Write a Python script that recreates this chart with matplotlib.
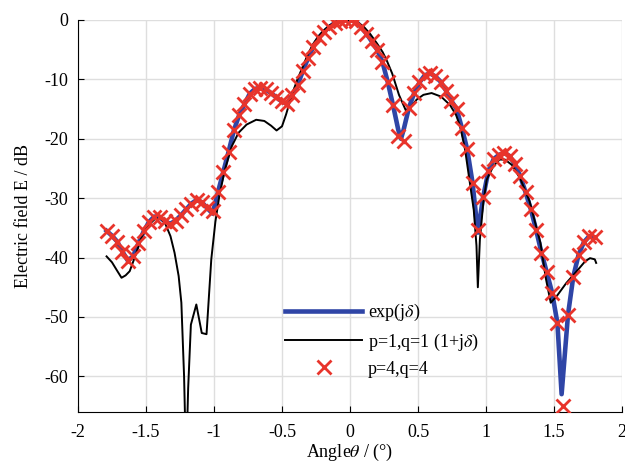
import matplotlib
matplotlib.use("Agg")
import matplotlib.pyplot as plt

plt.rcParams['font.family'] = ['Liberation Serif', 'DejaVu Serif']
plt.rcParams['mathtext.fontset'] = 'stix'
plt.rcParams['axes.unicode_minus'] = False

# angles of the p=4,q=4 samples (deg)
angle_pq4 = [-1.790, -1.751, -1.712, -1.673, -1.634, -1.595, -1.556, -1.517, -1.478, -1.439,
             -1.400, -1.361, -1.322, -1.283, -1.244, -1.205, -1.166, -1.127, -1.088, -1.049,
             -1.010, -0.971, -0.932, -0.893, -0.854, -0.815, -0.776, -0.737, -0.698, -0.659,
             -0.620, -0.581, -0.542, -0.503, -0.464, -0.425, -0.386, -0.347, -0.308, -0.269,
             -0.230, -0.191, -0.152, -0.113, -0.074, -0.035, 0.004, 0.043, 0.082, 0.121,
             0.160, 0.199, 0.238, 0.277, 0.316, 0.355, 0.394, 0.433, 0.472, 0.511,
             0.550, 0.589, 0.628, 0.667, 0.706, 0.745, 0.784, 0.823, 0.862, 0.901,
             0.940, 0.979, 1.018, 1.057, 1.096, 1.135, 1.174, 1.213, 1.252, 1.291,
             1.330, 1.369, 1.408, 1.447, 1.486, 1.525, 1.564, 1.603, 1.642, 1.681,
             1.720, 1.759, 1.798]
db_pq4 = [-35.5, -36.3, -37.3, -39.0, -40.5, -39.8, -37.6, -35.6, -34.0, -33.1,
          -33.2, -33.9, -34.3, -33.8, -32.9, -31.9, -30.9, -30.3, -30.7, -31.7,
          -32.2, -29.0, -25.6, -22.2, -18.6, -16.0, -14.2, -12.4, -11.6, -11.4,
          -11.7, -12.3, -13.0, -13.7, -14.1, -12.7, -11.0, -8.6, -6.4, -4.5,
          -3.0, -2.0, -1.2, -0.5, -0.1, 0.0, 0.0, -0.2, -1.2, -2.3,
          -3.6, -5.0, -7.0, -10.4, -14.3, -19.5, -20.3, -14.8, -12.3, -10.5,
          -9.3, -9.0, -9.5, -10.4, -11.9, -13.6, -15.0, -18.2, -21.8, -27.4,
          -35.3, -29.8, -25.4, -23.4, -22.7, -22.4, -22.9, -24.3, -26.3, -29.0,
          -31.9, -35.4, -39.2, -42.5, -45.9, -51.0, -65.0, -49.6, -43.2, -39.5,
          -37.4, -36.4, -36.6]

# exp(j delta) curve
angle_exp = [-1.790, -1.751, -1.712, -1.673, -1.634, -1.595, -1.556, -1.517, -1.478, -1.439,
             -1.400, -1.361, -1.322, -1.283, -1.244, -1.205, -1.166, -1.127, -1.088, -1.049,
             -1.010, -0.971, -0.932, -0.893, -0.854, -0.815, -0.776, -0.737, -0.698, -0.659,
             -0.620, -0.581, -0.542, -0.503, -0.464, -0.425, -0.386, -0.347, -0.308, -0.269,
             -0.230, -0.191, -0.152, -0.113, -0.074, -0.035, 0.004, 0.043, 0.082, 0.121,
             0.160, 0.199, 0.238, 0.277, 0.316, 0.355, 0.375, 0.394, 0.433, 0.472, 0.511,
             0.550, 0.589, 0.628, 0.667, 0.706, 0.745, 0.784, 0.823, 0.862, 0.901,
             0.940, 0.979, 1.018, 1.057, 1.096, 1.135, 1.174, 1.213, 1.252, 1.291,
             1.330, 1.369, 1.408, 1.447, 1.486, 1.525, 1.556, 1.603, 1.642, 1.681,
             1.720, 1.759, 1.798]
db_exp = [-35.5, -36.3, -37.3, -39.0, -40.5, -39.8, -37.6, -35.6, -34.0, -33.1,
          -33.2, -33.9, -34.3, -33.8, -32.9, -31.9, -30.9, -30.3, -30.7, -31.7,
          -32.6, -29.0, -25.6, -22.2, -18.6, -16.0, -14.2, -12.4, -11.6, -11.4,
          -11.7, -12.3, -13.0, -13.7, -14.1, -12.7, -11.0, -8.6, -6.4, -4.5,
          -3.0, -2.0, -1.2, -0.5, -0.1, 0.0, 0.0, -0.2, -1.2, -2.3,
          -3.6, -5.0, -7.0, -10.4, -14.3, -18.5, -20.0, -18.5, -14.8, -12.3, -10.5,
          -9.3, -9.0, -9.5, -10.4, -11.9, -13.6, -15.0, -18.2, -21.8, -27.4,
          -35.8, -29.8, -25.4, -23.4, -22.7, -22.4, -22.9, -24.3, -26.3, -29.0,
          -31.9, -35.4, -39.2, -42.5, -45.9, -51.0, -63.0, -49.6, -43.2, -39.5,
          -37.4, -36.4, -36.6]

# p=1,q=1 (1+j delta) curve
angle_pq1 = [-1.79, -1.75, -1.71, -1.68, -1.65, -1.62, -1.58, -1.53, -1.48, -1.43,
             -1.39, -1.36, -1.32, -1.29, -1.26, -1.24, -1.22, -1.205, -1.19, -1.17,
             -1.13, -1.09, -1.055, -1.02, -0.99, -0.96, -0.92, -0.87, -0.82, -0.76,
             -0.69, -0.63, -0.58, -0.54, -0.50, -0.47, -0.43, -0.39, -0.35, -0.31,
             -0.27, -0.23, -0.19, -0.15, -0.10, -0.05, 0.00, 0.05, 0.10, 0.15,
             0.20, 0.24, 0.27, 0.31, 0.36, 0.41, 0.44, 0.49, 0.54, 0.60,
             0.67, 0.735, 0.78, 0.81, 0.846, 0.88, 0.91, 0.93, 0.94, 0.955,
             0.98, 1.005, 1.054, 1.10, 1.14, 1.19, 1.25, 1.32, 1.40, 1.44,
             1.476, 1.52, 1.59, 1.667, 1.73, 1.765, 1.80, 1.81]
db_pq1 = [-39.8, -40.8, -42.3, -43.4, -43.0, -42.3, -39.8, -36.4, -34.5, -33.4,
          -33.5, -34.2, -36.4, -39.2, -43.1, -47.6, -60.0, -75.0, -62.0, -51.3,
          -47.9, -52.7, -52.9, -40.3, -34.0, -29.5, -25.2, -21.3, -19.0, -17.6,
          -16.8, -17.0, -17.8, -18.6, -17.9, -15.9, -12.8, -10.2, -8.0, -5.8,
          -4.0, -2.7, -1.7, -0.9, -0.3, 0.0, 0.0, -0.3, -1.1, -2.4,
          -4.0, -5.4, -6.8, -9.0, -12.6, -15.2, -14.9, -13.4, -12.6, -12.3,
          -12.9, -14.3, -16.0, -17.9, -21.8, -27.2, -32.0, -38.0, -45.0, -37.0,
          -30.8, -26.9, -24.6, -23.5, -23.5, -24.4, -26.6, -30.5, -37.5, -43.5,
          -47.6, -46.5, -44.3, -42.3, -40.6, -40.1, -40.3, -40.9]

fig = plt.figure(figsize=(6.25, 4.65), dpi=100)
ax = fig.add_axes([0.1248, 0.114, 0.8704, 0.843])

ax.plot(angle_exp, db_exp, color='#2f45a6', lw=3.3, label=r'exp(j$\delta$)', zorder=2)
ax.plot(angle_pq1, db_pq1, color='black', lw=1.4, label=r'p=1,q=1 (1+j$\delta$)', zorder=3)
ax.plot(angle_pq4, db_pq4, ls='none', marker='x', ms=10, mew=2, color='#e8342b',
        label='p=4,q=4', zorder=4)

ax.set_xlim(-2, 2)
ax.set_ylim(-66, 0)
ax.set_xticks([-2, -1.5, -1, -0.5, 0, 0.5, 1, 1.5, 2])
ax.set_xticklabels(['-2', '-1.5', '-1', '-0.5', '0', '0.5', '1', '1.5', '2'])
ax.set_yticks([0, -10, -20, -30, -40, -50, -60])
ax.set_yticklabels(['0', '-10', '-20', '-30', '-40', '-50', '-60'])
ax.grid(True, color='#dedede', lw=1)
ax.set_axisbelow(True)
ax.spines['top'].set_visible(False)
ax.spines['right'].set_visible(False)
ax.tick_params(direction='in', length=4, labelsize=13, colors='black')
ax.tick_params(axis='x', pad=9)
ax.tick_params(axis='y', pad=7)
ax.set_xlabel(r'Angle$\theta$ / (°)', fontsize=13, labelpad=0)
ax.set_ylabel('Electric field E / dB', fontsize=13, labelpad=9)

ax.legend(loc='upper left', bbox_to_anchor=(0.38, 0.28), frameon=False, fontsize=13,
          handlelength=4.3, handletextpad=0.3, borderpad=0, borderaxespad=0,
          labelspacing=0.45)

fig.savefig('out.png', dpi=100)
